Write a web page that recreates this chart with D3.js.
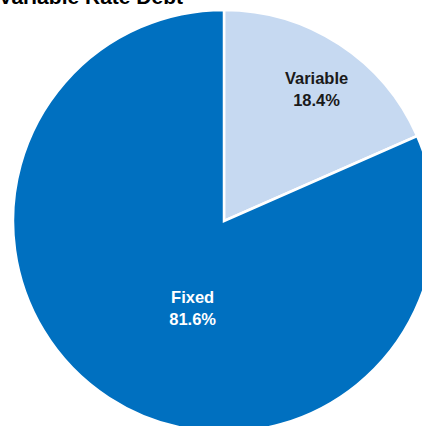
<!DOCTYPE html>
<html>
<head>
<meta charset="utf-8">
<script src="https://cdn.jsdelivr.net/npm/d3@7"></script>
<style>
  html, body { margin: 0; padding: 0; background: #fff; }
  svg { display: block; }
</style>
</head>
<body>
<svg id="chart" width="422" height="426"></svg>
<script>
// Debt mix by rate type
const categories = ["Variable", "Fixed"];
const shares = [18.4, 81.6];
const sliceColors = ["#C6D9F1", "#0070C0"];
const labelColors = ["#1a1a1a", "#ffffff"];
const title = "Fixed vs. Variable Rate Debt";

const width = 422, height = 426;
const cx = 224, cy = 221, radius = 211;

// label placement per slice: distance from centre and angular nudge (radians)
const labelPlacement = [
  { r: 162, nudge: 0.03 },
  { r: 92, nudge: -0.23 }
];

const svg = d3.select("#chart");

svg.append("text")
  .attr("x", 183)
  .attr("y", 4)
  .attr("text-anchor", "end")
  .attr("font-family", "'Liberation Sans', Arial, sans-serif")
  .attr("font-weight", "bold")
  .attr("font-size", 21)
  .attr("fill", "#000")
  .text(title);

const pie = d3.pie().sort(null).value(d => d)(shares);
const arc = d3.arc().innerRadius(0).outerRadius(radius);

const g = svg.append("g").attr("transform", `translate(${cx},${cy})`);

g.selectAll("path.slice")
  .data(pie)
  .join("path")
  .attr("class", "slice")
  .attr("d", arc)
  .attr("fill", (d, i) => sliceColors[i])
  .attr("stroke", "#fff")
  .attr("stroke-width", 2.5)
  .attr("stroke-linejoin", "miter");

const labels = g.selectAll("text.lbl")
  .data(pie)
  .join("text")
  .attr("class", "lbl")
  .attr("text-anchor", "middle")
  .attr("font-family", "'Liberation Sans', Arial, sans-serif")
  .attr("font-weight", "bold")
  .attr("font-size", 16.5)
  .attr("fill", (d, i) => labelColors[i])
  .attr("transform", (d, i) => {
    const p = labelPlacement[i];
    const a = (d.startAngle + d.endAngle) / 2 + p.nudge;
    return `translate(${Math.sin(a) * p.r},${-Math.cos(a) * p.r})`;
  });

labels.append("tspan")
  .attr("x", 0)
  .attr("y", -4)
  .text((d, i) => categories[i]);

labels.append("tspan")
  .attr("x", 0)
  .attr("y", 18)
  .text((d, i) => shares[i].toFixed(1) + "%");
</script>
</body>
</html>
